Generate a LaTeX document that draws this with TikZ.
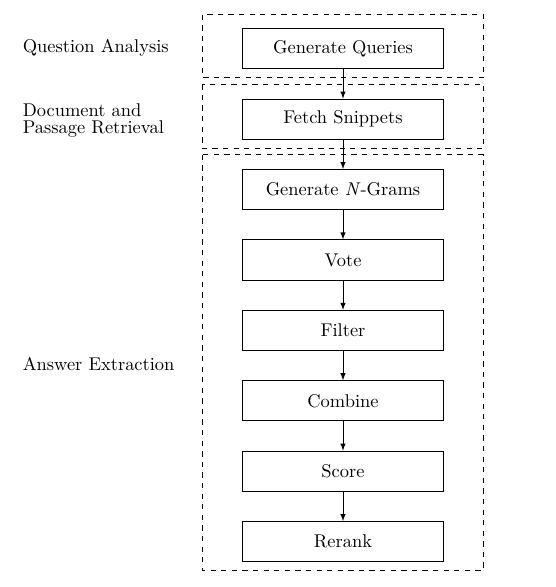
\documentclass[tikz,border=0pt]{standalone}
\usetikzlibrary{arrows}
\begin{document}
\begin{tikzpicture}[x=0.01992cm,y=-0.01992cm,
  font=\fontsize{10.45}{9.1}\selectfont,
  stepbox/.style={draw,rectangle,minimum width=4cm,minimum height=0.8cm,inner sep=0pt},
  phase/.style={draw,dashed},
  lbl/.style={anchor=west,align=left,inner sep=0pt},
  arr/.style={-latex}]
\useasboundingbox (0,0) rectangle (556,587);
% dashed phase boxes
\draw[phase] (202.3,14.7) rectangle (483.7,77.3);
\draw[phase] (202.3,84.3) rectangle (483.7,148.3);
\draw[phase] (202.3,154.7) rectangle (483.7,570);
% labels
\node[lbl] (qa) at (22.5,47.5) {Question Analysis};
\node[lbl] (dpr) at (22.5,120.5) {Document and\\Passage Retrieval};
\node[lbl] (ae) at (22.5,364) {Answer Extraction};
% steps
\node[stepbox] (gq) at (343,48.7) {Generate Queries};
\node[stepbox] (fs) at (343,119.1) {Fetch Snippets};
\node[stepbox] (gn) at (343,189.5) {Generate \emph{N}-Grams};
\node[stepbox] (vo) at (343,259.9) {Vote};
\node[stepbox] (fi) at (343,330.3) {Filter};
\node[stepbox] (co) at (343,400.7) {Combine};
\node[stepbox] (sc) at (343,471.1) {Score};
\node[stepbox] (rr) at (343,541.5) {Rerank};
\draw[arr] (gq) -- (fs);
\draw[arr] (fs) -- (gn);
\draw[arr] (gn) -- (vo);
\draw[arr] (vo) -- (fi);
\draw[arr] (fi) -- (co);
\draw[arr] (co) -- (sc);
\draw[arr] (sc) -- (rr);
\end{tikzpicture}
\end{document}
